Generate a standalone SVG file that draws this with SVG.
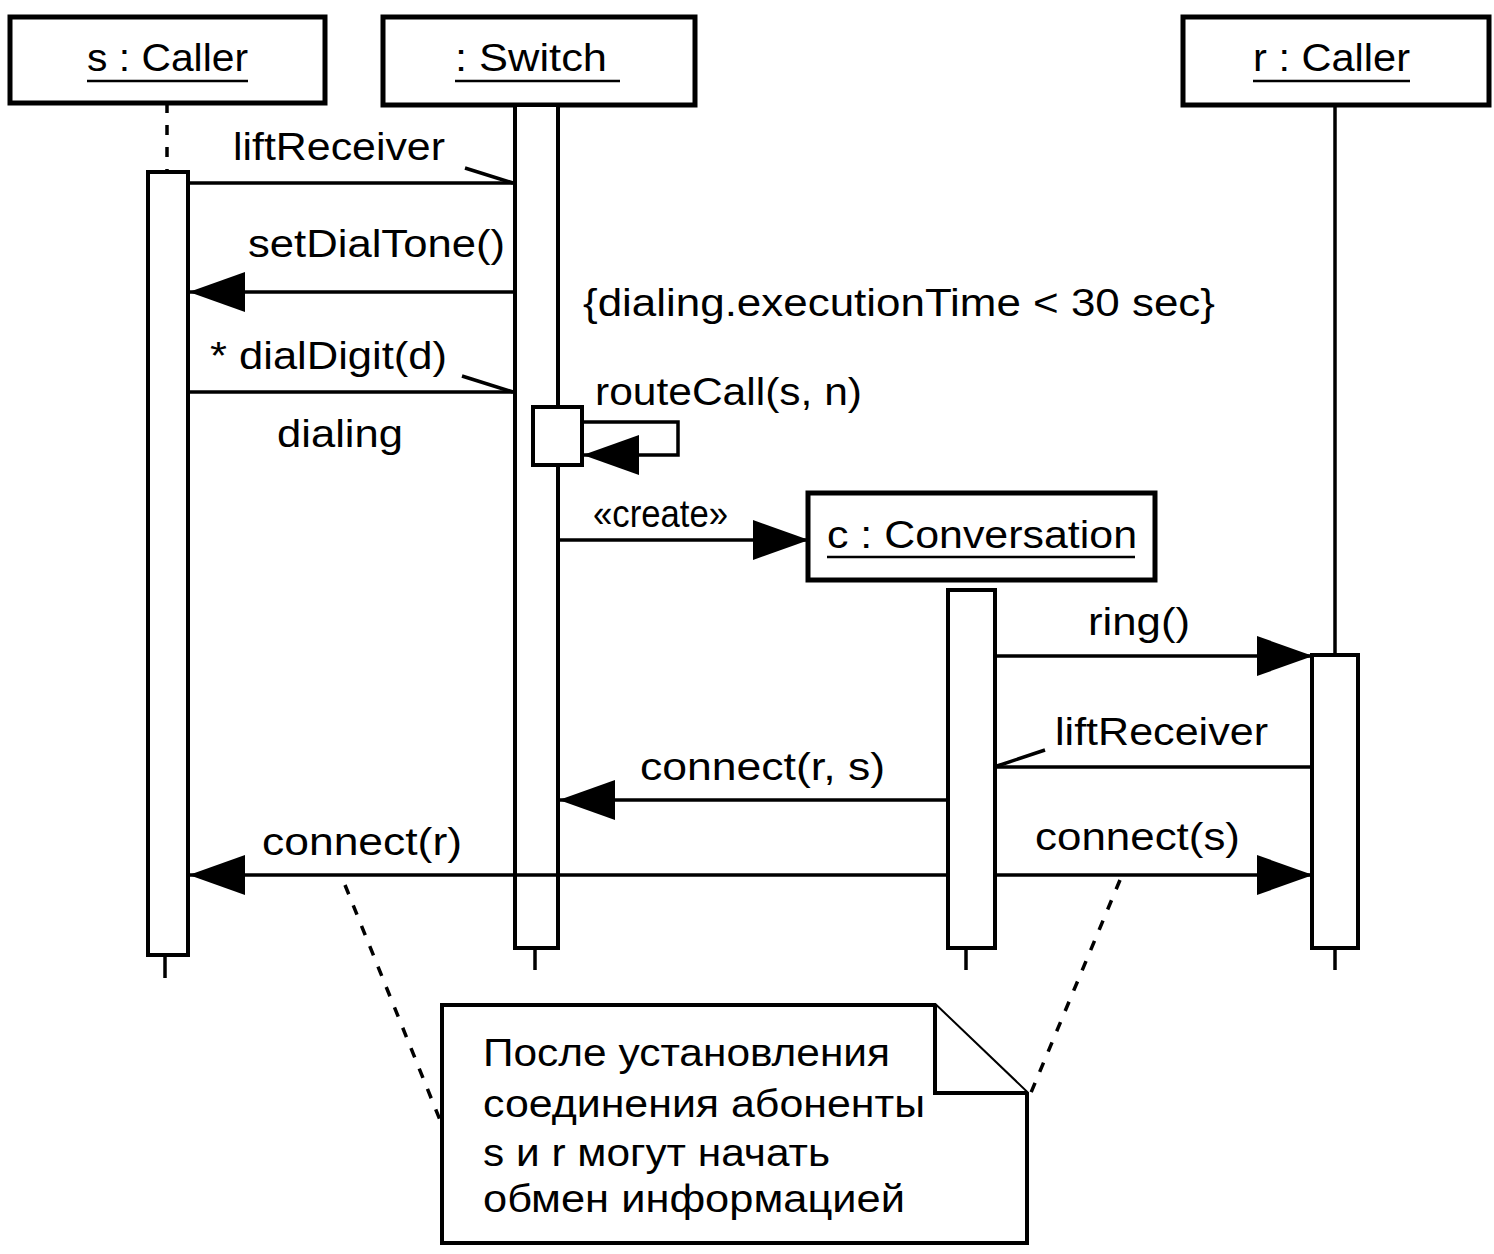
<svg xmlns="http://www.w3.org/2000/svg" width="1494" height="1254" viewBox="0 0 1494 1254">
<style>
.box{fill:#fff;stroke:#000;stroke-width:5}
.act{fill:#fff;stroke:#000;stroke-width:4}
.life{stroke:#000;stroke-width:3.5;fill:none}
.msg{stroke:#000;stroke-width:3.5;fill:none}
.t{font-family:"Liberation Sans",Arial,sans-serif;font-size:38px;fill:#000}
.ul{stroke:#000;stroke-width:2.5}
.note{fill:#fff;stroke:#000;stroke-width:4}
.dash{stroke:#000;stroke-width:3.5;stroke-dasharray:10 12;fill:none}
</style>
<defs>
<marker id="arr" viewBox="0 0 56 40" refX="55" refY="20" markerWidth="56" markerHeight="40" markerUnits="userSpaceOnUse" orient="auto">
<path d="M0,0 L56,20 L0,40 z" fill="#000"/>
</marker>
</defs>
<rect width="1494" height="1254" fill="#fff"/>

<g id="s-caller">
<rect class="box" x="10" y="17" width="315" height="86"/>
<text class="t" x="87" y="71" textLength="161" lengthAdjust="spacingAndGlyphs">s : Caller</text>
<line class="ul" x1="87" y1="81" x2="248" y2="81"/>
<line class="dash" x1="167" y1="103" x2="167" y2="172"/>
<rect class="act" x="148" y="172" width="40" height="783"/>
<line class="life" x1="165" y1="955" x2="165" y2="978"/>
</g>

<g id="switch">
<rect class="box" x="383" y="17" width="312" height="88"/>
<text class="t" x="455" y="71" textLength="152" lengthAdjust="spacingAndGlyphs">: Switch</text>
<line class="ul" x1="455" y1="81" x2="620" y2="81"/>
<rect class="act" x="515" y="105" width="43" height="843"/>
<line class="life" x1="535" y1="948" x2="535" y2="970"/>
<rect class="act" x="533" y="407" width="49" height="58"/>
</g>

<g id="r-caller">
<rect class="box" x="1183" y="17" width="306" height="88"/>
<text class="t" x="1253" y="71" textLength="157" lengthAdjust="spacingAndGlyphs">r : Caller</text>
<line class="ul" x1="1253" y1="81" x2="1410" y2="81"/>
<line class="life" x1="1335" y1="105" x2="1335" y2="655"/>
<rect class="act" x="1312" y="655" width="46" height="293"/>
<line class="life" x1="1335" y1="948" x2="1335" y2="970"/>
</g>

<g id="conversation">
<rect class="box" x="808" y="493" width="347" height="87"/>
<text class="t" x="827" y="548" textLength="310" lengthAdjust="spacingAndGlyphs">c : Conversation</text>
<line class="ul" x1="827" y1="557" x2="1135" y2="557"/>
<rect class="act" x="948" y="590" width="47" height="358"/>
<line class="life" x1="966" y1="948" x2="966" y2="970"/>
</g>

<g id="note">
<path class="note" d="M442,1005 H935 L1027,1093 V1243 H442 Z"/>
<path class="note" d="M935,1005 V1093 H1027" fill="none"/>
<text class="t" x="483" y="1066" textLength="407" lengthAdjust="spacingAndGlyphs">После установления</text>
<text class="t" x="483" y="1117" textLength="442" lengthAdjust="spacingAndGlyphs">соединения абоненты</text>
<text class="t" x="483" y="1166" textLength="347" lengthAdjust="spacingAndGlyphs">s и r могут начать</text>
<text class="t" x="483" y="1212" textLength="422" lengthAdjust="spacingAndGlyphs">обмен информацией</text>
</g>

<g id="connectors">
<line class="msg" x1="188" y1="183" x2="515" y2="183"/>
<line class="msg" x1="465" y1="168" x2="513" y2="183"/>
<text class="t" x="233" y="160" textLength="212" lengthAdjust="spacingAndGlyphs">liftReceiver</text>

<line class="msg" x1="515" y1="292" x2="190" y2="292" marker-end="url(#arr)"/>
<text class="t" x="248" y="257" textLength="257" lengthAdjust="spacingAndGlyphs">setDialTone()</text>

<line class="msg" x1="188" y1="392" x2="515" y2="392"/>
<line class="msg" x1="462" y1="376" x2="513" y2="392"/>
<text class="t" x="210" y="369" textLength="237" lengthAdjust="spacingAndGlyphs">* dialDigit(d)</text>
<text class="t" x="277" y="447" textLength="126" lengthAdjust="spacingAndGlyphs">dialing</text>

<text class="t" x="583" y="316" textLength="632" lengthAdjust="spacingAndGlyphs">{dialing.executionTime &lt; 30 sec}</text>

<path class="msg" d="M582,422 H678 V455 H584" marker-end="url(#arr)"/>
<text class="t" x="595" y="405" textLength="267" lengthAdjust="spacingAndGlyphs">routeCall(s, n)</text>

<line class="msg" x1="558" y1="540" x2="808" y2="540" marker-end="url(#arr)"/>
<text class="t" x="593" y="527" textLength="135" lengthAdjust="spacingAndGlyphs">«create»</text>

<line class="msg" x1="995" y1="656" x2="1312" y2="656" marker-end="url(#arr)"/>
<text class="t" x="1088" y="635" textLength="102" lengthAdjust="spacingAndGlyphs">ring()</text>

<line class="msg" x1="1312" y1="767" x2="995" y2="767"/>
<line class="msg" x1="1045" y1="750" x2="997" y2="766"/>
<text class="t" x="1055" y="745" textLength="213" lengthAdjust="spacingAndGlyphs">liftReceiver</text>

<line class="msg" x1="948" y1="800" x2="560" y2="800" marker-end="url(#arr)"/>
<text class="t" x="640" y="780" textLength="245" lengthAdjust="spacingAndGlyphs">connect(r, s)</text>

<line class="msg" x1="948" y1="875" x2="190" y2="875" marker-end="url(#arr)"/>
<text class="t" x="262" y="855" textLength="200" lengthAdjust="spacingAndGlyphs">connect(r)</text>

<line class="msg" x1="995" y1="875" x2="1312" y2="875" marker-end="url(#arr)"/>
<text class="t" x="1035" y="850" textLength="205" lengthAdjust="spacingAndGlyphs">connect(s)</text>

<line class="dash" x1="345" y1="885" x2="440" y2="1120"/>
<line class="dash" x1="1120" y1="880" x2="1030" y2="1095"/>
</g>
</svg>
